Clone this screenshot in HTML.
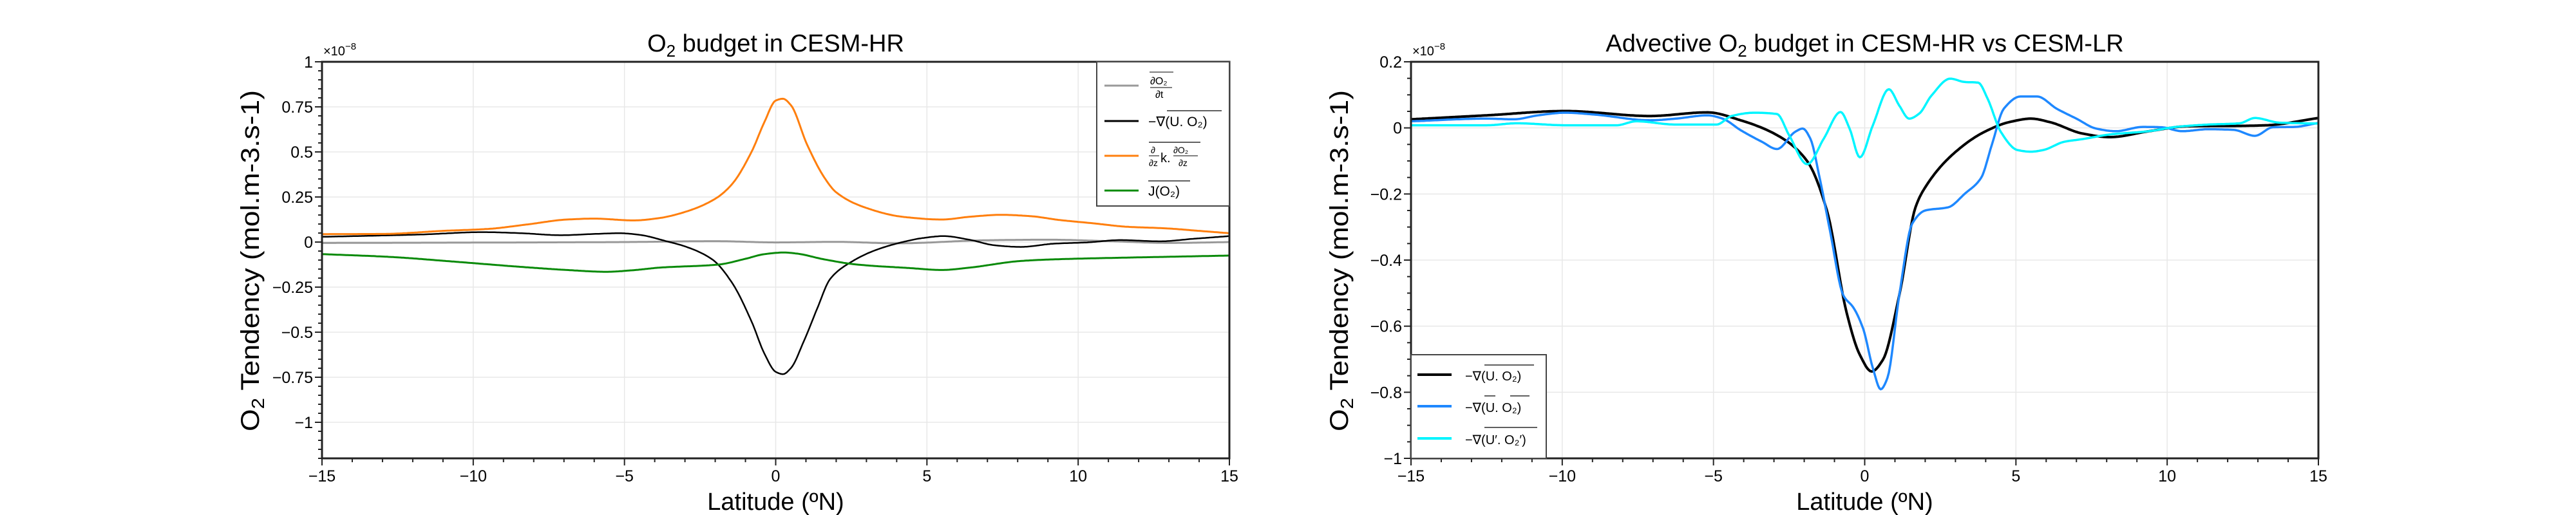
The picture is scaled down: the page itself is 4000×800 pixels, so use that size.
<!DOCTYPE html>
<html><head><meta charset="utf-8"><style>
html,body{margin:0;padding:0;background:#fff;}
svg{display:block;font-family:"Liberation Sans",sans-serif;}
</style></head><body>
<svg id="chart" width="4000" height="800" viewBox="0 0 4000 800" xmlns="http://www.w3.org/2000/svg">
<rect width="4000" height="800" fill="#fff"/>
<g id="p1"></g>
<g id="p2"></g>
</svg>
<script>
// ---- data: left panel (O2 budget in CESM-HR) ----
const xTicks = [-15,-10,-5,0,5,10,15];
const yTicksLeft = [1,0.75,0.5,0.25,0,-0.25,-0.5,-0.75,-1];
const yTickLabelsLeft = ["1","0.75","0.5","0.25","0","-0.25","-0.5","-0.75","-1"];
const yTicksRight = [0.2,0,-0.2,-0.4,-0.6,-0.8,-1];
const yTickLabelsRight = ["0.2","0","-0.2","-0.4","-0.6","-0.8","-1"];

const grayLat = [-15,-10,-5,-2,0,2,4,7,9,11,13,15];
const grayVal = [-0.005,-0.003,0,0.005,-0.002,0.001,-0.007,0.01,0.013,0.005,-0.005,0];

const orangeLat = [-15,-13,-11,-9.5,-8.2,-6.9,-6,-4.7,-3.85,-3,-2,-1.45,-0.8,-0.37,0,0.24,0.5,1.04,1.6,2.0,2.9,4.2,5.5,6.4,7.45,8.4,9.4,10.5,11.6,12.9,14,15];
const orangeVal = [0.044,0.045,0.062,0.073,0.098,0.125,0.13,0.12,0.133,0.167,0.24,0.32,0.5,0.667,0.785,0.795,0.76,0.54,0.36,0.276,0.195,0.14,0.125,0.14,0.151,0.144,0.122,0.104,0.085,0.076,0.062,0.049];

const blackLLat = [-15,-11.7,-9.7,-8.4,-7.1,-6,-5.15,-4.5,-3.6,-3,-2.1,-1.45,-0.8,-0.37,0,0.24,0.5,0.93,1.37,1.8,2.45,3.3,4.2,4.85,5.55,6.4,7.24,8.1,9.2,10.3,11.4,12.7,13.8,15];
const blackLVal = [0.029,0.042,0.055,0.049,0.038,0.045,0.049,0.04,0.004,-0.024,-0.096,-0.224,-0.44,-0.62,-0.72,-0.733,-0.70,-0.55,-0.37,-0.205,-0.115,-0.045,0,0.022,0.033,0.013,-0.018,-0.027,-0.009,-0.002,0.011,0.004,0.018,0.033];

const greenLat = [-15,-12.8,-10.6,-8.4,-6.9,-5.6,-4.7,-3.85,-1.9,-1.0,-0.37,0.28,0.7,1.6,2.7,4.4,5.5,6.4,8.1,9.2,11.4,12.9,15];
const greenVal = [-0.067,-0.082,-0.109,-0.138,-0.155,-0.165,-0.156,-0.142,-0.125,-0.093,-0.067,-0.058,-0.064,-0.096,-0.125,-0.144,-0.155,-0.142,-0.105,-0.096,-0.087,-0.082,-0.075];

// ---- data: right panel (Advective O2 budget) ----
const blackRLat = [-15,-12.5,-9.9,-7.1,-5.2,-4.1,-2.8,-1.9,-1.25,-0.6,-0.16,0.23,0.6,1.14,1.68,2.0,2.9,3.96,4.8,5.5,6.1,7.2,8.1,9.4,10.7,12.4,13.3,15];
const blackRVal = [0.026,0.038,0.051,0.036,0.047,0.023,-0.027,-0.101,-0.25,-0.558,-0.687,-0.737,-0.702,-0.508,-0.24,-0.18,-0.081,-0.012,0.018,0.028,0.018,-0.017,-0.028,-0.01,0.005,0.006,0.008,0.03];

const blueLat = [-15,-12.5,-11.6,-10.8,-9.9,-8.9,-7.1,-6.25,-5.2,-4.7,-4.1,-3.4,-2.9,-2.3,-2.05,-1.8,-1.47,-1.15,-0.7,-0.38,-0.05,0.27,0.53,0.75,1.14,1.57,2.0,2.77,3.3,3.85,4.2,4.6,5.15,5.7,6.35,7.0,7.65,8.3,9.2,9.8,10.5,11.35,12.2,12.9,13.5,14.2,15];
const blueVal = [0.02,0.028,0.026,0.038,0.046,0.04,0.023,0.028,0.038,0.028,-0.007,-0.042,-0.064,-0.012,-0.002,-0.032,-0.16,-0.31,-0.508,-0.543,-0.608,-0.727,-0.791,-0.757,-0.508,-0.29,-0.25,-0.24,-0.2,-0.151,-0.052,0.058,0.095,0.095,0.058,0.028,-0.002,-0.01,0.003,0.002,-0.01,-0.004,-0.006,-0.024,0.002,0.003,0.015];

const cyanLat = [-15,-12.5,-11.5,-9.9,-8.2,-7.55,-6.25,-4.9,-4.4,-3.65,-2.9,-2.5,-1.9,-1.35,-0.8,-0.5,-0.16,0.27,0.8,1.14,1.47,1.8,2.2,2.83,3.3,3.75,4.07,4.5,5.05,5.5,5.9,6.6,7.2,8.1,9.4,10.3,11.35,12.4,12.9,13.7,15];
const cyanVal = [0.008,0.008,0.014,0.008,0.008,0.02,0.01,0.01,0.036,0.046,0.042,-0.022,-0.11,-0.032,0.048,-0.002,-0.089,0.008,0.117,0.068,0.028,0.043,0.097,0.149,0.139,0.137,0.087,-0.012,-0.067,-0.072,-0.067,-0.042,-0.034,-0.02,-0.01,0.003,0.01,0.014,0.03,0.016,0.013];

const NS = "http://www.w3.org/2000/svg";
function mk(parent, tag, attrs, txt){
  const e = document.createElementNS(NS, tag);
  for (const k in attrs) e.setAttribute(k, attrs[k]);
  if (txt !== undefined) e.textContent = txt;
  parent.appendChild(e);
  return e;
}
// monotone cubic (Fritsch-Carlson) in data space, sampled finely
function monoSample(xs, ys, step){
  const n = xs.length, d = [], m = new Array(n);
  for (let i=0;i<n-1;i++) d.push((ys[i+1]-ys[i])/(xs[i+1]-xs[i]));
  m[0]=d[0]; m[n-1]=d[n-2];
  for (let i=1;i<n-1;i++){
    if (d[i-1]*d[i] <= 0) m[i]=0;
    else { const w1=2*(xs[i+1]-xs[i])+(xs[i]-xs[i-1]), w2=(xs[i+1]-xs[i])+2*(xs[i]-xs[i-1]);
      m[i]=(w1+w2)/(w1/d[i-1]+w2/d[i]); }
  }
  const out=[];
  for (let i=0;i<n-1;i++){
    const h=xs[i+1]-xs[i];
    const k=Math.max(1,Math.ceil(h/step));
    for (let j=0;j<k;j++){
      const t=j/k, t2=t*t, t3=t2*t;
      const y=(2*t3-3*t2+1)*ys[i]+(t3-2*t2+t)*h*m[i]+(-2*t3+3*t2)*ys[i+1]+(t3-t2)*h*m[i+1];
      out.push([xs[i]+t*h, y]);
    }
  }
  out.push([xs[n-1], ys[n-1]]);
  return out;
}

function panel(g, cfg){
  const L=cfg.L, R=cfg.R, T=96, B=712;
  const sx = v => L + (v+15)/30*(R-L);
  const sy = v => T + (cfg.ymax - v)/(cfg.ymax-cfg.ymin)*(B-T);
  xTicks.forEach(v=>{
    const l = mk(g,"line",{x1:sx(v),x2:sx(v),y1:T,y2:B,stroke:"#e8e8e8","stroke-width":1.5});
    
    
  });
  cfg.yt.forEach(v=>{
    const l = mk(g,"line",{x1:L,x2:R,y1:sy(v),y2:sy(v),stroke:"#e8e8e8","stroke-width":1.5});
    
    
  });
  cfg.series.forEach(s=>{
    const pts = monoSample(s.lat, s.val, 0.05).map(p=>sx(p[0]).toFixed(1)+","+sy(p[1]).toFixed(1));
    const p = mk(g,"polyline",{points:pts.join(" "),fill:"none",stroke:s.color,"stroke-width":s.w,"stroke-linejoin":"round"});
    
    
  });
  const fr = mk(g,"rect",{x:L,y:T,width:R-L,height:B-T,fill:"none",stroke:"#222","stroke-width":3});
  
  
  for (let v=-15; v<=15; v++){
    const major = v%5===0;
    const t = mk(g,"line",{x1:sx(v),x2:sx(v),y1:B,y2:B+(major?11:6),stroke:"#222","stroke-width":2});
    
    
  }
  xTicks.forEach(v=>{
    const t = mk(g,"text",{x:sx(v),y:748,"font-size":25,"text-anchor":"middle",fill:"#000"}, v<0?"\u2212"+(-v):String(v));
    
    
  });
  const nMin = Math.round((cfg.ymax-cfg.ymin)/0.05);
  for (let i=0;i<=nMin;i++){
    const v = cfg.ymax - i*0.05;
    const major = cfg.yt.some(t=>Math.abs(t-v)<1e-6);
    const t = mk(g,"line",{x1:L-(major?11:6),x2:L,y1:sy(v),y2:sy(v),stroke:"#222","stroke-width":2});
    
    
  }
  cfg.yt.forEach((v,i)=>{
    const t = mk(g,"text",{x:L-14,y:sy(v)+9,"font-size":25,"text-anchor":"end",fill:"#000"}, cfg.ytl[i].replace("-","\u2212"));
    
    
  });
  const ex = mk(g,"text",{x:L+2,y:86,"font-size":20,fill:"#000"},"\u00d710");
  
  
  mk(ex,"tspan",{dy:-9,"font-size":15},"\u22128");
  const tt = mk(g,"text",{x:(L+R)/2,y:80,"font-size":38,"text-anchor":"middle",fill:"#000"});
  
  
  mk(tt,"tspan",{},cfg.t1); mk(tt,"tspan",{dy:8,"font-size":26},"2"); mk(tt,"tspan",{dy:-8},cfg.t2);
  const xl = mk(g,"text",{x:(L+R)/2,y:792,"font-size":38,"text-anchor":"middle",fill:"#000"},"Latitude (\u00baN)");
  
  
  const yl = mk(g,"text",{x:0,y:0,"font-size":40,"text-anchor":"middle",fill:"#000",transform:"translate("+(L-98)+","+((T+B)/2+1)+") rotate(-90)",textLength:530,lengthAdjust:"spacingAndGlyphs"});
  
  
  mk(yl,"tspan",{},"O"); mk(yl,"tspan",{dy:8,"font-size":28},"2"); mk(yl,"tspan",{dy:-8}," Tendency (mol.m-3.s-1)");
  return {sx,sy};
}

const g1 = document.getElementById("p1");
panel(g1,{L:500,R:1909,ymax:1,ymin:-1.2,yt:yTicksLeft,ytl:yTickLabelsLeft,t1:"O",t2:" budget in CESM-HR",
  series:[
    {name:"series-do2-dt",lat:grayLat,val:grayVal,color:"#999999",w:3},
    {name:"series-advection",lat:blackLLat,val:blackLVal,color:"#000000",w:2.5},
    {name:"series-diffusion",lat:orangeLat,val:orangeVal,color:"#ff7f0e",w:3},
    {name:"series-biology",lat:greenLat,val:greenVal,color:"#0a8a0a",w:3}
  ]});
const g2 = document.getElementById("p2");
panel(g2,{L:2191,R:3600,ymax:0.2,ymin:-1,yt:yTicksRight,ytl:yTickLabelsRight,t1:"Advective O",t2:" budget in CESM-HR vs CESM-LR",
  series:[
    {name:"series-total-advection",lat:blackRLat,val:blackRVal,color:"#000000",w:4},
    {name:"series-mean-advection",lat:blueLat,val:blueVal,color:"#1e88ff",w:3.5},
    {name:"series-eddy-advection",lat:cyanLat,val:cyanVal,color:"#00f5ff",w:3.5}
  ]});

function legendBox(g,x,y,w,h,name){
  const r = mk(g,"rect",{x:x,y:y,width:w,height:h,fill:"#fff",stroke:"#444","stroke-width":2});
  
  
}
function legLine(g,x1,x2,y,color,w){
  const l = mk(g,"line",{x1:x1,x2:x2,y1:y,y2:y,stroke:color,"stroke-width":w});
  
  
}
legendBox(g1,1703,96,206,224,"legend");
legLine(g1,1715,1768,133,"#999999",3);
legLine(g1,1715,1768,188,"#000000",3);
legLine(g1,1715,1768,242,"#ff7f0e",3);
legLine(g1,1715,1768,296,"#0a8a0a",3);
(function(){
  const e = mk(g1,"g",{});
  
  
  mk(e,"line",{x1:1785,x2:1822,y1:112,y2:112,stroke:"#000","stroke-width":1});
  mk(e,"text",{x:1786,y:131,"font-size":16},"\u2202O\u2082");
  mk(e,"line",{x1:1786,x2:1820,y1:136,y2:136,stroke:"#000","stroke-width":1});
  mk(e,"text",{x:1794,y:152,"font-size":16},"\u2202t");
})();
(function(){
  const e = mk(g1,"g",{});
  
  
  mk(e,"line",{x1:1812,x2:1897,y1:172,y2:172,stroke:"#000","stroke-width":1.2});
  mk(e,"text",{x:1783,y:196,"font-size":21},"\u2212\u2207(U. O\u2082)");
})();
(function(){
  const e = mk(g1,"g",{});
  
  
  mk(e,"line",{x1:1784,x2:1864,y1:221,y2:221,stroke:"#000","stroke-width":1.2});
  mk(e,"text",{x:1787,y:238,"font-size":14},"\u2202");
  mk(e,"line",{x1:1784,x2:1800,y1:242,y2:242,stroke:"#000","stroke-width":1});
  mk(e,"text",{x:1784,y:258,"font-size":14},"\u2202z");
  mk(e,"text",{x:1802,y:252,"font-size":20},"k.");
  mk(e,"text",{x:1822,y:238,"font-size":14},"\u2202O\u2082");
  mk(e,"line",{x1:1822,x2:1860,y1:242,y2:242,stroke:"#000","stroke-width":1});
  mk(e,"text",{x:1830,y:258,"font-size":14},"\u2202z");
})();
(function(){
  const e = mk(g1,"g",{});
  
  
  mk(e,"line",{x1:1783,x2:1848,y1:281,y2:281,stroke:"#000","stroke-width":1.2});
  mk(e,"text",{x:1783,y:304,"font-size":21},"J(O\u2082)");
})();

legendBox(g2,2191,551,210,161,"legend");
legLine(g2,2201,2254,582,"#000000",4);
legLine(g2,2201,2254,631,"#1e88ff",4);
legLine(g2,2201,2254,681,"#00f5ff",4);
(function(){
  const e = mk(g2,"g",{});
  
  
  mk(e,"line",{x1:2305,x2:2382,y1:567,y2:567,stroke:"#000","stroke-width":1.2});
  mk(e,"text",{x:2275,y:591,"font-size":20},"\u2212\u2207(U. O\u2082)");
})();
(function(){
  const e = mk(g2,"g",{});
  
  
  mk(e,"line",{x1:2305,x2:2322,y1:615,y2:615,stroke:"#000","stroke-width":1.2});
  mk(e,"line",{x1:2345,x2:2375,y1:615,y2:615,stroke:"#000","stroke-width":1.2});
  mk(e,"text",{x:2275,y:640,"font-size":20},"\u2212\u2207(U. O\u2082)");
})();
(function(){
  const e = mk(g2,"g",{});
  
  
  mk(e,"line",{x1:2305,x2:2387,y1:664,y2:664,stroke:"#000","stroke-width":1.2});
  mk(e,"text",{x:2275,y:690,"font-size":20},"\u2212\u2207(U\u2032. O\u2082\u2032)");
})();
</script>
</body></html>
